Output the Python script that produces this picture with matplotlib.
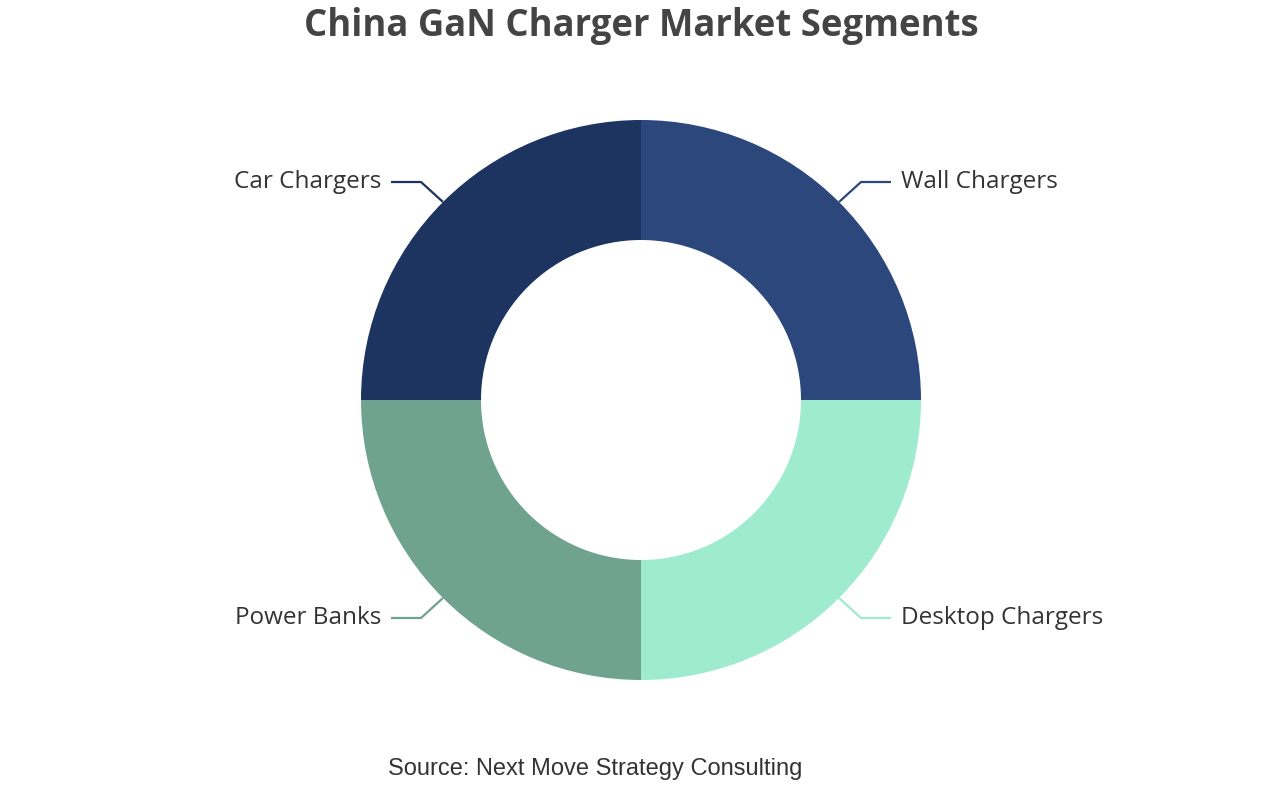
import matplotlib
matplotlib.use("Agg")
import matplotlib.pyplot as plt
import numpy as np

segments = ["Wall Chargers", "Desktop Chargers", "Power Banks", "Car Chargers"]
shares = [25, 25, 25, 25]
colors = ["#2b477b", "#9eebd0", "#6fa38f", "#1d3461"]

fig = plt.figure(figsize=(12.82, 8), dpi=100)
ax = fig.add_axes([0, 0, 1, 1])

cx, cy, r = 641, 400, 280
wedges, _ = ax.pie(shares, colors=colors, startangle=90, counterclock=False,
                   center=(cx, cy), radius=r, frame=True,
                   wedgeprops=dict(width=120, linewidth=0))
ax.set_xlim(0, 1282)
ax.set_ylim(0, 800)
ax.set_aspect("equal")
ax.axis("off")

for w, name, col in zip(wedges, segments, colors):
    ang = np.deg2rad((w.theta1 + w.theta2) / 2)
    sx, sy = np.sign(np.cos(ang)), np.sign(np.sin(ang))
    x0 = cx + r * np.cos(ang)
    y0 = cy + r * np.sin(ang)
    x1 = x0 + 22 * sx
    y1 = y0 + 20 * sy
    x2 = x1 + 30 * sx
    ax.plot([x0, x1, x2], [y0, y1, y1], color=col, lw=1.6, solid_capstyle="butt")
    ha = "left" if sx > 0 else "right"
    ax.text(x2 + 10 * sx, y1, name, ha=ha, va="center",
            fontsize=17.5, family="Open Sans", color="#333333")

fig.text(0.5, 1 - 26 / 800, "China GaN Charger Market Segments", ha="center", va="center",
         fontsize=26.3, fontweight="bold", family="Open Sans", color="#444444")
fig.text(595 / 1282, 1 - 769 / 800, "Source: Next Move Strategy Consulting", ha="center",
         va="center", fontsize=17, family="Liberation Sans", color="#333333")

fig.savefig("out.png", dpi=100)
